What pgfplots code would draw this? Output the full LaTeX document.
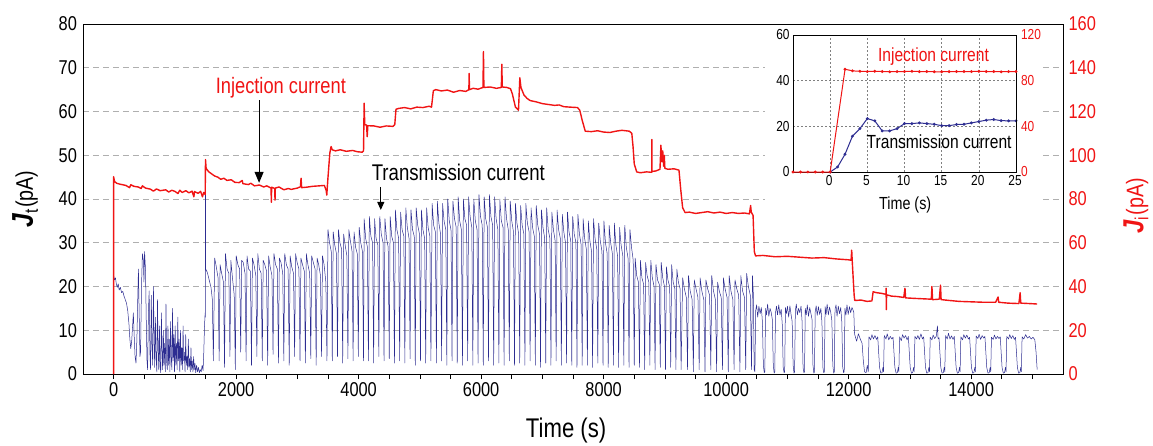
\documentclass[border=0pt]{standalone}
\usepackage{fontspec}
\setmainfont{Liberation Sans}[FakeStretch=0.82]
\usepackage{pgfplots}
\pgfplotsset{compat=1.18}
\usetikzlibrary{arrows.meta}
\definecolor{myred}{RGB}{240,20,20}
\definecolor{myblue}{RGB}{45,45,145}
\definecolor{gridgray}{RGB}{175,175,175}
\begin{document}
\begin{tikzpicture}
\path[use as bounding box] (-83pt,-71pt) rectangle (1070pt,374pt);
% ---------------- main left axis (transmission) ----------------
\begin{axis}[name=main, at={(0pt,0pt)}, anchor=south west,
  width=980pt, height=350pt, scale only axis,
  xmin=-500, xmax=15500, ymin=0, ymax=80,
  ytick={0,10,...,80}, xtick={0,2000,...,14000},
  minor xtick={500,1000,...,15000},
  scaled x ticks=false, scaled y ticks=false,
  xtick pos=bottom, ytick pos=left, tick align=outside,
  major tick length=5pt, minor tick length=5pt,
  ytick style={draw=none}, xtick style={black, line width=0.7pt},
  ymajorgrids, grid style={color=gridgray, dash pattern=on 6pt off 4pt, line width=0.8pt},
  axis line style={black, line width=0.9pt},
  tick label style={font=\fontsize{20}{20}\selectfont},
  yticklabel style={xshift=2.5pt},
  xlabel={Time (s)},
  xlabel style={at={(axis description cs:0.493,0)}, anchor=center, yshift=-57pt, font=\fontsize{27}{27}\selectfont},
  ylabel={{\fontsize{30}{30}\selectfont\bfseries\itshape J}\raisebox{-5pt}{\fontsize{19}{19}\selectfont t}\,{\fontsize{24}{24}\selectfont (pA)}},
  ylabel style={at={(axis description cs:-0.059,0.5)}, anchor=center},
  /pgf/number format/assume math mode=true,
  /pgf/number format/1000 sep={},
]
\addplot[myblue, line width=0.5pt, line join=round] coordinates {
(0,0) (0,22.5) (15,21.5) (30,22) (45,20.5) (60,19.8) (75,20.6) (90,19.2) (110,19.8) (130,18.6) (150,18.9) (170,17.8) (190,17) (210,16.2) (230,14.5) (250,11.5) (265,8) (280,5.8) (295,7.5) (310,11) (322,14) (335,9) (350,4) (365,2.5) (380,8) (392,16) (405,24) (418,13) (430,4) (440,5) (455,20) (470,27.5) (485,26) (495,21) (505,28) (520,24) (533,12) (545,3) (555,1) (568,14) (580,19) (592,5) (603,1) (615,18) (626,7) (638,2) (650,20) (660,9) (670,1.5) (682,13) (693,4) (705,0.5) (716,17) (726,6) (737,1) (748,11) (758,2) (769,0.3) (780,14) (790,5) (800,1) (812,10) (822,2) (833,7) (844,0.5) (855,16) (865,3) (876,1) (887,11) (897,2) (908,8) (919,0.5) (930,12) (940,4) (951,1) (962,15) (972,3) (983,9) (994,0.5) (1005,11) (1015,2) (1026,7) (1037,1) (1048,13) (1058,3) (1069,8) (1080,0.5) (1091,10) (1101,2) (1112,6) (1123,1) (1134,11) (1144,3) (1155,5) (1166,0.5) (1177,9) (1187,2) (1198,4) (1209,1) (1220,8) (1230,1.5) (1241,3.5) (1252,0.5) (1263,6) (1273,1) (1284,3) (1295,0.5) (1306,4) (1316,1) (1328,2.5) (1340,0.3) (1355,2) (1370,0.5) (1385,1.5) (1400,0.3) (1415,1) (1430,0.5) (1445,2) (1460,0.8) (1472,5) (1484,11) (1494,14) (1498,13)
(1500,47) (1503,24) (1530,23.2) (1560,21.5) (1590,19.8) (1612,17) (1628,3)
(1650,26.5) (1676,24.5) (1705,22) (1723,3)
(1738,25) (1764,23) (1793,21) (1811,1.5)
(1826,27.5) (1852,24) (1881,23) (1899,4)
(1914,26) (1940,22) (1969,18) (1987,1)
(2002,27) (2028,25) (2057,24) (2075,5)
(2090,26) (2116,25.5) (2145,23) (2163,3)
(2178,27) (2204,24) (2233,23.5) (2251,2)
(2266,26.5) (2292,25) (2321,22.5) (2339,4)
(2354,27.5) (2380,24) (2409,23) (2427,3)
(2442,26) (2468,25) (2497,23.5) (2515,2)
(2530,27) (2556,24.5) (2585,22.5) (2603,4.5)
(2618,27.5) (2644,25) (2673,24) (2691,2.5)
(2706,26.5) (2732,25.5) (2761,23) (2779,3)
(2794,27.5) (2820,25) (2849,24) (2867,2)
(2882,27) (2908,24.5) (2937,23) (2955,4)
(2970,27.5) (2996,25.5) (3025,24) (3043,3)
(3058,26.5) (3084,25) (3113,23.5) (3131,2.5)
(3146,27.5) (3172,25) (3201,23) (3219,3.5)
(3234,27) (3260,25.5) (3289,24) (3307,2)
(3322,26.5) (3348,25) (3377,22.5) (3395,4)
(3410,27) (3436,25) (3465,21) (3483,3)
(3500,33) (3525,30) (3553,28) (3570,3)
(3585,32.5) (3610,29.5) (3638,27.5) (3655,4)
(3670,33) (3695,30) (3723,28.5) (3740,2.5)
(3755,32) (3780,29.5) (3808,27) (3825,3.5)
(3840,33) (3865,30.5) (3893,28) (3910,3)
(3925,32.5) (3950,29) (3978,27.5) (3995,4)
(4010,33.5) (4035,30) (4063,28) (4080,3)
(4090,35.5) (4115,31) (4143,29) (4160,3)
(4175,36) (4200,31.5) (4228,30) (4245,2.5)
(4260,35.5) (4285,31) (4313,29.5) (4330,4)
(4345,36) (4370,32) (4398,30) (4415,3)
(4430,35.5) (4455,31) (4483,29) (4500,3.5)
(4515,36) (4540,31.5) (4568,30) (4585,2.5)
(4600,37.5) (4625,33) (4653,31) (4670,3)
(4685,37) (4710,33) (4738,31.5) (4755,2.5)
(4770,38) (4795,33.5) (4823,31) (4840,3.5)
(4855,37.5) (4880,33) (4908,31.5) (4925,2)
(4940,38) (4965,34) (4993,32) (5010,3)
(5025,37.5) (5050,33) (5078,31) (5095,2.5)
(5110,38) (5135,33.5) (5163,31.5) (5180,3)
(5200,39) (5225,34) (5253,32.5) (5270,2.5)
(5285,39.5) (5310,34.5) (5338,32) (5355,3)
(5370,39) (5395,35) (5423,33) (5440,2)
(5455,40) (5480,35) (5508,33) (5525,3)
(5540,39.5) (5565,35.5) (5593,33.5) (5610,2.5)
(5625,40.5) (5650,35) (5678,33) (5695,2)
(5710,40) (5735,35.5) (5763,34) (5780,3)
(5795,40.5) (5820,36) (5848,33.5) (5865,2)
(5880,40) (5905,35) (5933,33) (5950,2.5)
(5965,41) (5990,36) (6018,34) (6035,2)
(6050,40.5) (6075,35.5) (6103,33.5) (6120,3)
(6135,41) (6160,36) (6188,34) (6205,2)
(6220,40.5) (6245,35.5) (6273,33) (6290,2.5)
(6305,40) (6330,35) (6358,33.5) (6375,2)
(6390,40.5) (6415,35.5) (6443,33) (6460,3)
(6475,39.5) (6500,35) (6528,32.5) (6545,2)
(6560,39) (6585,34.5) (6613,32) (6630,2.5)
(6645,38.5) (6670,34) (6698,32) (6715,2)
(6730,39) (6755,34.5) (6783,32.5) (6800,3)
(6815,38) (6840,33.5) (6868,31.5) (6885,2)
(6900,38.5) (6925,34) (6953,32) (6970,1.5)
(6985,37.5) (7010,33.5) (7038,31) (7055,2.5)
(7070,38) (7095,33) (7123,31) (7140,2)
(7155,37) (7180,33) (7208,30.5) (7225,3)
(7240,37.5) (7265,33) (7293,31) (7310,2)
(7325,36.5) (7350,32.5) (7378,30) (7395,2.5)
(7410,37) (7435,32.5) (7463,30.5) (7480,2)
(7495,36) (7520,32) (7548,30) (7565,1.5)
(7580,36.5) (7605,32) (7633,29.5) (7650,2)
(7665,35.5) (7690,31) (7718,28.5) (7735,2)
(7750,35) (7775,30.5) (7803,28) (7820,1.5)
(7835,35.5) (7860,31) (7888,28.5) (7905,2.5)
(7920,34.5) (7945,30.5) (7973,28) (7990,2)
(8005,35) (8030,30) (8058,27.5) (8075,1.5)
(8090,34) (8115,30) (8143,27.5) (8160,2)
(8175,34.5) (8200,29.5) (8228,27) (8245,1.5)
(8260,33.5) (8285,29.5) (8313,27) (8330,2)
(8345,34) (8370,29) (8398,26.5) (8415,1.5)
(8430,33) (8455,29) (8483,26) (8500,2)
(8515,26.5) (8540,22.5) (8568,21) (8585,1.5)
(8600,26) (8625,22) (8653,20.5) (8670,1)
(8685,25.5) (8710,22.5) (8738,21) (8755,2)
(8770,26) (8795,22) (8823,20) (8840,1)
(8855,25) (8880,21.5) (8908,20.5) (8925,1.5)
(8940,25.5) (8965,22) (8993,20) (9010,1)
(9025,24.5) (9050,21.5) (9078,20) (9095,1.5)
(9110,25) (9135,21) (9163,19.5) (9180,1)
(9195,24) (9220,21) (9248,19.5) (9265,1)
(9290,22) (9318,19.5) (9350,17.5) (9370,1)
(9385,22.5) (9413,19) (9445,17) (9465,0.5)
(9480,21.5) (9508,19.5) (9540,17.5) (9560,1)
(9575,22) (9603,19) (9635,17) (9655,0.5)
(9670,21.5) (9698,19.5) (9730,18) (9750,1)
(9765,22.5) (9793,19) (9825,17) (9845,0.5)
(9860,21) (9888,19) (9920,17.5) (9940,1)
(9955,22) (9983,19.5) (10015,17.5) (10035,0.5)
(10050,22.5) (10078,19) (10110,17) (10130,1)
(10145,21.5) (10173,19.5) (10205,18) (10225,0.5)
(10240,22.5) (10268,19) (10300,17.5) (10320,1)
(10335,23) (10363,20) (10395,18) (10415,1)
(10430,22.5) (10445,18) (10458,1)
(10470,0.5) (10482,14.5) (10498,15.8) (10515,13) (10535,15.5) (10555,13.8) (10575,15.2) (10592,12) (10608,2) (10622,0.3)
(10632,0.5) (10644,15) (10660,13.5) (10677,16) (10697,13.2) (10717,15) (10737,14) (10754,12.5) (10770,2) (10784,0.2)
(10794,0.5) (10806,14) (10822,15.5) (10839,13.5) (10859,15.8) (10879,13.5) (10899,14.8) (10916,11.5) (10932,1.5) (10946,0.3)
(10956,0.5) (10968,15.2) (10984,13.8) (11001,15.5) (11021,13) (11041,15.6) (11061,13.5) (11078,12) (11094,2) (11108,0.2)
(11118,0.5) (11130,14.5) (11146,16) (11163,13.5) (11183,15) (11203,14) (11223,15.5) (11240,12) (11256,1.5) (11270,0.3)
(11280,0.5) (11292,15) (11308,13.5) (11325,15.8) (11345,13.2) (11365,15.2) (11385,13.8) (11402,12.5) (11418,2) (11432,0.2)
(11442,0.5) (11454,14.2) (11470,15.6) (11487,13.4) (11507,15.4) (11527,13.6) (11547,15) (11564,11.8) (11580,1.5) (11594,0.3)
(11604,0.5) (11616,15.4) (11632,13.6) (11649,16) (11669,13.5) (11689,15.3) (11709,14) (11726,12.2) (11742,2) (11756,0.2)
(11766,0.5) (11778,14.8) (11794,15.8) (11811,13.2) (11831,15.5) (11851,13.8) (11871,15.2) (11888,12) (11904,1.5) (11918,0.3)
(11928,0.5) (11940,15) (11956,13.5) (11973,15.8) (11993,13.6) (12013,15.4) (12033,14) (12055,15.2) (12075,14.5) (12085,14) (12095,9.5)
(12100,9) (12130,7.5) (12160,9.2) (12190,8) (12220,7) (12240,3) (12260,0.5) (12285,0.3) (12305,2)
(12320,0.5) (12332,8.5) (12360,7.8) (12380,9) (12405,8) (12430,8.8) (12455,7.9) (12475,8.5) (12490,5) (12505,1.5) (12525,0.2) (12545,0.3) (12560,1.5)
(12570,0.5) (12582,8.8) (12610,8) (12630,9.2) (12655,7.8) (12680,8.6) (12705,8) (12725,8.4) (12740,5) (12755,1.5) (12775,0.2) (12795,0.3) (12810,1.5)
(12820,0.5) (12832,8.5) (12860,7.6) (12880,9) (12905,8.2) (12930,8.8) (12955,7.8) (12975,8.6) (12990,5) (13005,1.5) (13025,0.2) (13045,0.3) (13060,1.5)
(13070,0.5) (13082,8.6) (13110,8) (13130,8.8) (13155,7.9) (13180,9.2) (13205,8) (13225,8.5) (13240,5) (13255,1.5) (13275,0.2) (13295,0.3) (13310,1.5)
(13320,0.5) (13332,8.4) (13360,7.8) (13380,8.9) (13405,8.1) (13430,8.6) (13450,11) (13460,8) (13475,8.3) (13490,5) (13505,1.5) (13525,0.2) (13545,0.3) (13560,1.5)
(13570,0.5) (13582,8.8) (13610,8) (13630,9.3) (13655,8) (13680,8.7) (13705,7.9) (13725,8.6) (13740,5) (13755,1.5) (13775,0.2) (13795,0.3) (13810,1.5)
(13820,0.5) (13832,8.5) (13860,7.8) (13880,9) (13905,8.2) (13930,8.9) (13955,8) (13975,8.4) (13990,5) (14005,1.5) (14025,0.2) (14045,0.3) (14060,1.5)
(14070,0.5) (14082,8.7) (14110,8.1) (14130,9.1) (14155,7.9) (14180,8.8) (14205,8.2) (14225,8.6) (14240,5) (14255,1.5) (14275,0.2) (14295,0.3) (14310,1.5)
(14320,0.5) (14332,8.4) (14360,7.9) (14380,8.9) (14405,8) (14430,8.6) (14455,8.1) (14475,8.5) (14490,5) (14505,1.5) (14525,0.2) (14545,0.3) (14560,1.5)
(14570,0.5) (14582,8.6) (14610,8) (14630,9) (14655,8.1) (14680,8.8) (14705,7.9) (14725,8.4) (14740,5) (14755,1.5) (14775,0.2) (14795,0.3) (14810,1.5)
(14820,0.5) (14832,8.5) (14860,8) (14890,9) (14920,8.2) (14950,8.6) (14980,8) (15010,8.4) (15040,7.8) (15060,5) (15078,1)
};
\node[myred, anchor=base, font=\fontsize{22.3}{22.3}\selectfont] at (axis cs:2730,64.2) {Injection current};
\draw[-{Triangle[width=9pt,length=11pt]}, line width=1pt] (axis cs:2375,62.6) -- (axis cs:2375,43.7);
\node[black, anchor=base, font=\fontsize{22.7}{22.7}\selectfont] at (axis cs:5628,44.3) {Transmission current};
\draw[-{Triangle[width=7pt,length=8pt]}, line width=1pt] (axis cs:4362,42.8) -- (axis cs:4362,37.5);
\end{axis}
% ---------------- main right axis (injection) ----------------
\begin{axis}[at={(0pt,0pt)}, anchor=south west,
  width=980pt, height=350pt, scale only axis,
  xmin=-500, xmax=15500, ymin=0, ymax=160,
  axis x line=none, axis y line*=right,
  ytick={0,20,...,160}, ytick style={draw=none},
  axis line style={black, line width=0.9pt},
  yticklabel style={myred, font=\fontsize{20}{20}\selectfont, xshift=2pt},
  ylabel={{\fontsize{29}{29}\selectfont\bfseries\itshape J}\raisebox{-5pt}{\fontsize{19}{19}\selectfont i}\,{\fontsize{24}{24}\selectfont (pA)}},
  ylabel style={myred, at={(axis description cs:1.0745,0.48)}, anchor=center, rotate=0},
  /pgf/number format/assume math mode=true,
]
\addplot[myred, line width=1.4pt, line join=round] coordinates {
(0,0) (0,90.2) (15,88) (50,87.2) (100,86.8) (150,86.5) (200,86.2) (260,85.2) (280,86.5) (330,85.8) (400,85.5) (450,84.8) (470,86) (520,85) (600,84.5) (650,83.6) (700,84.6) (760,83.8) (850,84.2) (900,83.2) (950,84) (1000,83.5) (1050,82.5) (1080,84) (1120,83) (1180,83.8) (1230,82.8) (1280,83.6) (1310,81) (1320,83.4) (1380,82.6) (1420,83.5) (1450,81) (1470,83) (1495,82)
(1500,98) (1510,94) (1550,92.5) (1600,91.5) (1650,90.5) (1700,90) (1750,89) (1800,89.5) (1850,88.5) (1920,88.8) (1980,87.6) (2050,87.5) (2100,88.5) (2110,87) (2200,86.6) (2240,87.2) (2300,86) (2380,86.4) (2450,85.5) (2500,86) (2570,85) (2575,78.5) (2580,85.4) (2630,84.8) (2635,79.5) (2640,85) (2700,85.5) (2780,84.2) (2850,84.8) (2900,84.4) (3000,85) (3050,85.6) (3060,89.5) (3070,85.2) (3150,85.4) (3250,85.8) (3350,86) (3440,86.2) (3470,84) (3480,81.8) (3500,90) (3530,101) (3550,104) (3570,102.5) (3620,102) (3700,102.5) (3800,101.8) (3900,102.2) (3980,101.6) (4060,101.4) (4080,102)
(4090,123.8) (4100,114) (4130,113.8) (4140,108.5) (4150,113.5) (4250,113.4) (4350,112.8) (4450,113.4) (4560,113.2) (4590,114)
(4610,121) (4650,121.4) (4750,121.8) (4850,121.2) (4950,122) (5050,121.8) (5150,122.4) (5190,122)
(5220,129.5) (5260,130) (5350,129.4) (5450,129.8) (5550,128.8) (5650,129.6) (5750,129.2) (5800,130) (5804,137.4) (5810,130) (5870,130.6) (5950,130.2) (6030,131) (6038,147.4) (6045,131) (6150,131.2) (6250,130.6) (6330,131) (6338,141.6) (6345,131.2) (6420,131) (6480,130.4) (6510,128) (6560,122) (6610,120.6) (6632,135.4) (6650,131) (6700,127.5) (6750,126) (6800,125) (6900,124.4) (7000,123.6) (7100,123.2) (7200,122.8) (7274,123) (7350,122.2) (7450,122) (7574,121.8) (7610,120.6)
(7650,116) (7700,111) (7800,110.8) (7900,111.2) (8000,110.6) (8100,110.4) (8200,111) (8300,111.4) (8420,111) (8460,110)
(8480,104) (8500,96) (8540,92.4) (8600,92) (8700,92.4) (8785,92.2) (8787,107.2) (8790,92.6) (8850,92.8) (8920,93.6) (8935,104.6) (8950,97) (8965,102) (8980,95) (8990,100) (9000,94) (9050,93.6) (9150,93.8) (9230,93.2)
(9260,84) (9290,76) (9330,73.8) (9400,74) (9500,73.4) (9600,73.8) (9700,74.2) (9800,73.6) (9900,74) (10000,73.4) (10100,73.8) (10200,73.4) (10300,73.6) (10380,73.2) (10400,77) (10410,74) (10440,72.5)
(10460,56) (10480,54) (10600,54.2) (10800,53.6) (11000,53.8) (11200,53.4) (11400,53) (11600,53.2) (11800,52.6) (12000,52.2) (12040,52) (12050,56.6) (12060,51) (12090,36) (12100,33.6) (12200,33.8) (12300,33.2) (12380,33.4) (12400,37.6) (12450,37.2) (12550,36.8) (12610,36.4) (12612,39.2) (12615,29.4) (12620,36.2) (12700,35.6) (12800,35.4) (12900,35) (12920,39.2) (12930,34.8) (13050,34.6) (13200,34.4) (13350,34.2) (13360,40) (13370,34) (13480,34.2) (13500,40.6) (13510,34) (13650,33.6) (13800,33.2) (14000,33) (14200,32.8) (14400,32.8) (14440,35.2) (14450,32.8) (14600,32.4) (14780,32.2) (14800,37.2) (14810,32.4) (14950,32.2) (15078,32)
};
\end{axis}
% ---------------- inset ----------------
\fill[white] (682pt,164pt) rectangle (959pt,348pt);
\begin{axis}[at={(710pt,202pt)}, anchor=south west,
  width=223pt, height=137pt, scale only axis,
  xmin=-5, xmax=25, ymin=0, ymax=60,
  xtick={0,5,...,25}, ytick={0,20,40,60},
  xtick pos=bottom, ytick pos=left,
  tick style={draw=none},
  xmajorgrids, ymajorgrids,
  grid style={color=gray, dash pattern=on 2pt off 2pt, line width=0.5pt},
  axis line style={black, line width=0.8pt},
  tick label style={font=\fontsize{14.5}{14.5}\selectfont},
  xticklabel style={xshift=-1pt},
  xlabel={Time (s)},
  xlabel style={at={(axis description cs:0.503,0)}, anchor=center, yshift=-33pt, font=\fontsize{17.5}{17.5}\selectfont},
  /pgf/number format/assume math mode=true,
]
\addplot[myblue, line width=1pt, mark=*, mark size=0.9pt] coordinates {
(0,0) (1,2.2) (2,7.8) (3,15.7) (4,19) (5,23.4) (6,22.4) (7,18) (8,18) (9,19) (10,21.2) (11,21.2) (12,21.5) (13,21.2) (14,20.9) (15,20.3) (16,20.3) (17,20.8) (18,20.9) (19,21.5) (20,22.1) (21,22.7) (22,23) (23,22.5) (24,22.4) (25,22.4)
};
\node[myred, anchor=base, font=\fontsize{19}{19}\selectfont] at (axis cs:13.9,48.5) {Injection current};
\node[black, anchor=base, font=\fontsize{19}{19}\selectfont] at (axis cs:14.66,10.2) {Transmission current};
\end{axis}
\begin{axis}[at={(710pt,202pt)}, anchor=south west,
  width=223pt, height=137pt, scale only axis,
  xmin=-5, xmax=25, ymin=0, ymax=120,
  axis x line=none, axis y line*=right,
  ytick={0,40,80,120}, tick style={draw=none},
  axis line style={black, line width=0.8pt},
  yticklabel style={myred, font=\fontsize{14.5}{14.5}\selectfont, xshift=1.5pt},
  /pgf/number format/assume math mode=true,
]
\addplot[myred, line width=1pt, mark=*, mark size=0.9pt] coordinates {
(-5,0) (-4,0) (-3,0) (-2,0) (-1,0) (0,0) (2,90) (3,88.6) (4,88.2) (5,88) (6,88.2) (7,88) (8,87.8) (9,88) (10,88) (11,88.2) (12,88) (13,88) (14,87.8) (15,87.8) (16,88) (17,88) (18,88) (19,88) (20,88.2) (21,88) (22,88) (23,87.8) (24,88) (25,88)
};
\end{axis}
\end{tikzpicture}
\end{document}
